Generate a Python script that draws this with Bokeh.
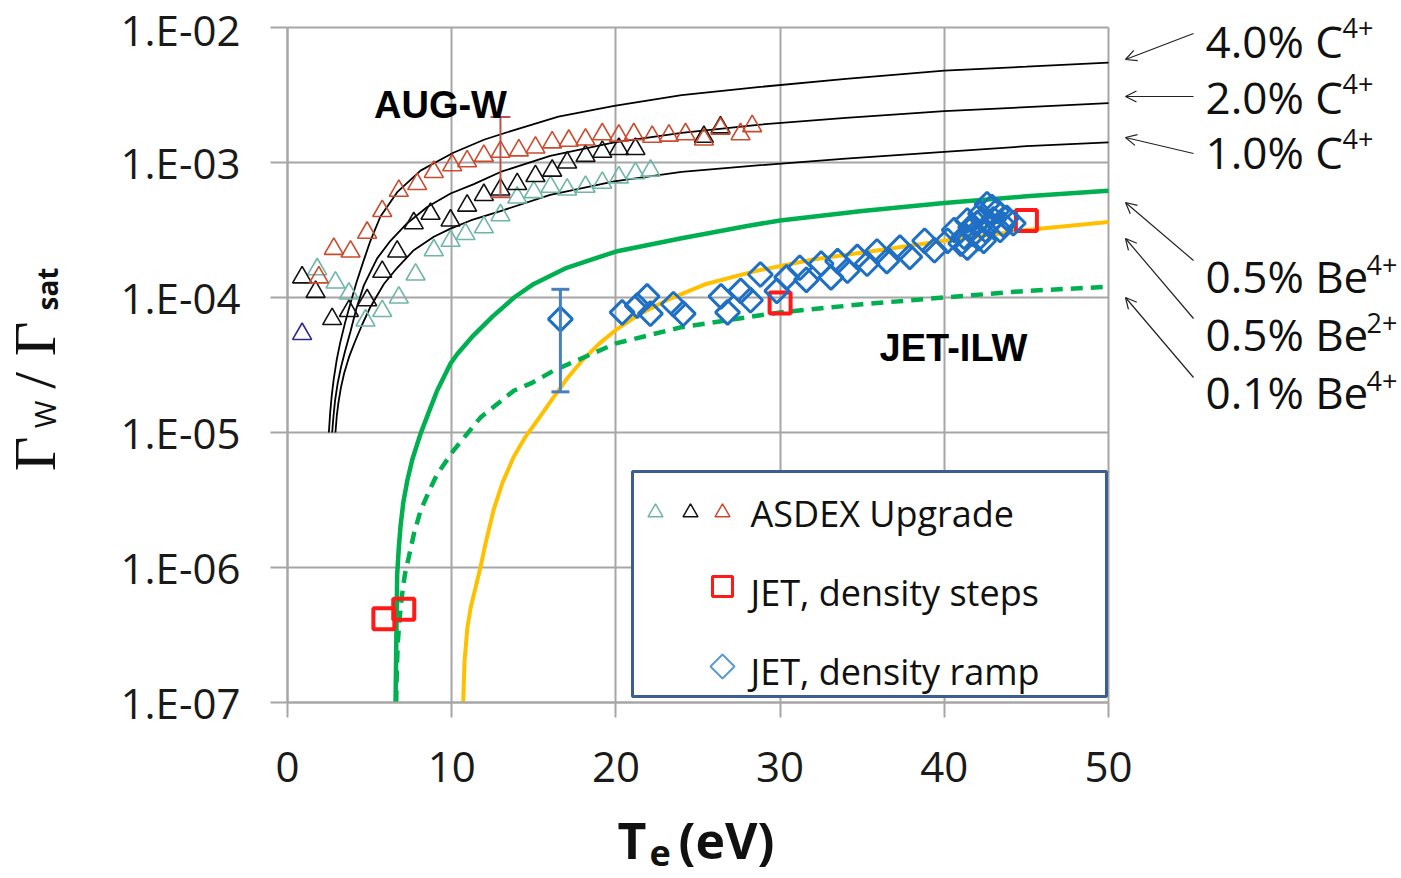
import math
from bokeh.plotting import figure
from bokeh.models import (Range1d, FixedTicker, CustomJSTickFormatter, Label, Arrow, OpenHead,
                          BoxAnnotation, Whisker, TeeHead, ColumnDataSource)
from bokeh.embed import file_html
from bokeh.resources import INLINE

# ------------------------------------------------------------------ data
# model curves: Te (eV) and Gamma_W / Gamma_sat
te_c40 = [2.52, 2.60, 2.70, 2.82, 3.00, 3.20, 3.50, 3.84, 4.20, 4.60, 5.05, 5.66, 6.68, 8.10, 9.00,
          10.1, 12.0, 13.8, 16.5, 19.9, 24.0, 28.8, 34.0, 40.0, 45.0, 50.0]
gw_c40 = [1.00e-5, 1.41e-5, 1.91e-5, 2.51e-5, 3.47e-5, 4.57e-5, 6.46e-5, 9.12e-5, 1.29e-4, 1.82e-4,
          2.63e-4, 3.98e-4, 6.03e-4, 8.71e-4, 1.00e-3, 1.18e-3, 1.48e-3, 1.74e-3, 2.19e-3, 2.63e-3,
          3.16e-3, 3.63e-3, 4.17e-3, 4.79e-3, 5.13e-3, 5.50e-3]

te_c20 = [2.72, 2.80, 2.90, 3.05, 3.25, 3.50, 3.84, 4.20, 4.65, 5.46, 6.27, 7.29, 8.51, 9.93, 11.35,
          12.97, 16.0, 19.9, 24.0, 28.8, 34.0, 40.0, 45.0, 50.0]
gw_c20 = [1.00e-5, 1.32e-5, 1.74e-5, 2.29e-5, 3.02e-5, 3.98e-5, 5.62e-5, 8.32e-5, 1.23e-4, 1.95e-4,
          2.63e-4, 3.55e-4, 4.68e-4, 5.89e-4, 6.92e-4, 8.51e-4, 1.12e-3, 1.41e-3, 1.66e-3, 1.91e-3,
          2.14e-3, 2.40e-3, 2.57e-3, 2.75e-3]

te_c10 = [2.92, 3.00, 3.10, 3.25, 3.45, 3.75, 4.10, 4.55, 5.05, 5.87, 6.68, 7.69, 8.91, 9.93, 11.15,
          12.97, 16.0, 19.9, 24.0, 28.8, 34.0, 40.0, 45.0, 50.0]
gw_c10 = [1.00e-5, 1.32e-5, 1.66e-5, 2.14e-5, 2.75e-5, 3.63e-5, 4.68e-5, 6.31e-5, 8.51e-5, 1.26e-4,
          1.66e-4, 2.24e-4, 2.82e-4, 3.24e-4, 3.72e-4, 4.37e-4, 5.75e-4, 7.24e-4, 8.51e-4, 9.55e-4,
          1.07e-3, 1.20e-3, 1.32e-3, 1.41e-3]

te_be4_05 = [6.58, 6.62, 6.68, 6.78, 6.88, 7.05, 7.29, 7.60, 8.10, 8.60, 9.11, 9.93, 10.33, 11.33,
             12.5, 13.8, 15.0, 17.0, 20.0, 24.0, 28.0, 30.0, 35.0, 40.0, 45.0, 50.0]
gw_be4_05 = [1.00e-7, 2.51e-7, 8.91e-7, 1.41e-6, 2.00e-6, 3.02e-6, 4.37e-6, 6.31e-6, 9.77e-6, 1.41e-5,
             2.04e-5, 3.24e-5, 3.80e-5, 5.25e-5, 7.24e-5, 1.00e-4, 1.26e-4, 1.66e-4, 2.19e-4, 2.75e-4,
             3.39e-4, 3.72e-4, 4.37e-4, 5.01e-4, 5.62e-4, 6.17e-4]

te_be2_05 = [10.70, 10.78, 10.95, 11.15, 11.35, 11.75, 12.10, 12.56, 13.10, 13.78, 14.50, 15.40, 16.20,
             17.03, 18.0, 19.0, 20.0, 21.5, 23.1, 25.5, 28.6, 32.0, 36.0, 40.0, 45.0, 50.0]
gw_be2_05 = [1.00e-7, 2.00e-7, 3.55e-7, 5.01e-7, 6.31e-7, 1.00e-6, 1.58e-6, 2.69e-6, 4.27e-6, 6.61e-6,
             9.33e-6, 1.32e-5, 1.82e-5, 2.51e-5, 3.47e-5, 4.57e-5, 5.75e-5, 7.59e-5, 9.55e-5, 1.26e-4,
             1.58e-4, 1.91e-4, 2.24e-4, 2.63e-4, 3.16e-4, 3.63e-4]

te_be4_01 = [6.62, 6.66, 6.72, 6.85, 6.98, 7.15, 7.39, 7.70, 8.10, 8.60, 9.11, 10.13, 11.75, 13.78,
             14.92, 16.22, 20.0, 24.0, 30.0, 35.0, 40.0, 45.0, 50.0]
gw_be4_01 = [1.00e-7, 1.78e-7, 2.82e-7, 4.47e-7, 6.31e-7, 8.91e-7, 1.20e-6, 1.78e-6, 2.63e-6, 3.63e-6,
             4.90e-6, 7.41e-6, 1.29e-5, 2.04e-5, 2.34e-5, 2.88e-5, 4.57e-5, 6.03e-5, 7.76e-5, 8.91e-5,
             1.00e-4, 1.12e-4, 1.20e-4]

# ASDEX Upgrade measurements (three series of triangles)
aug_red_te = [1.91, 2.82, 3.84, 4.85, 5.77, 6.78, 7.90, 8.91, 10.03, 10.94, 11.96, 12.97, 14.09, 15.10,
              16.12, 17.13, 18.15, 19.17, 20.18, 21.09, 22.21, 23.23, 24.24, 25.36, 26.37, 27.59, 28.30]
aug_red_gw = [1.41e-4, 2.29e-4, 2.19e-4, 3.02e-4, 4.37e-4, 6.17e-4, 6.92e-4, 8.51e-4, 9.55e-4, 1.02e-3,
              1.12e-3, 1.20e-3, 1.23e-3, 1.29e-3, 1.41e-3, 1.45e-3, 1.48e-3, 1.62e-3, 1.58e-3, 1.62e-3,
              1.55e-3, 1.58e-3, 1.62e-3, 1.48e-3, 1.78e-3, 1.62e-3, 1.86e-3]

aug_blk_te = [0.89, 1.71, 2.72, 3.74, 4.85, 5.77, 6.68, 7.69, 8.71, 9.93, 10.94, 11.96, 12.97, 13.99,
              15.10, 16.12, 17.03, 18.15, 19.17, 20.18, 21.19, 25.36, 26.37]
aug_blk_gw = [1.41e-4, 1.10e-4, 6.92e-5, 7.94e-5, 9.55e-5, 1.55e-4, 2.19e-4, 3.55e-4, 4.17e-4, 3.72e-4,
              4.79e-4, 5.75e-4, 6.31e-4, 6.92e-4, 7.94e-4, 8.71e-4, 1.00e-3, 1.12e-3, 1.20e-3, 1.26e-3,
              1.26e-3, 1.55e-3, 1.82e-3]

aug_teal_te = [1.81, 2.92, 3.74, 4.75, 5.77, 6.78, 7.80, 8.91, 9.93, 10.84, 11.96, 12.97, 13.99, 15.00,
               16.02, 17.03, 18.15, 19.17, 20.18, 21.19, 22.11]
aug_teal_gw = [1.62e-4, 1.29e-4, 1.07e-4, 6.76e-5, 7.94e-5, 1.00e-4, 1.48e-4, 2.24e-4, 2.63e-4, 2.95e-4,
               3.31e-4, 4.07e-4, 5.50e-4, 6.03e-4, 6.61e-4, 6.31e-4, 6.61e-4, 7.08e-4, 7.76e-4, 8.32e-4,
               8.71e-4]

aug_navy_te = [0.89]
aug_navy_gw = [5.37e-5]

# error bar on an ASDEX Upgrade point
aug_err_te = [12.97]
aug_err_hi = [2.17e-3]
aug_err_lo = [5.53e-4]

# JET, density steps
jet_steps_te = [5.87, 7.08, 30.0, 45.0]
jet_steps_gw = [4.17e-7, 4.90e-7, 9.12e-5, 3.72e-4]

# JET, density ramp
jet_ramp_te = [20.38, 21.3, 21.9, 22.1, 23.5, 24.1, 26.4, 26.8, 27.6, 28.2, 28.8, 29.8, 30.4, 31.2,
               31.6, 32.5, 33.1, 33.5, 34.1, 34.7, 35.3, 35.9, 36.5, 37.3, 37.9, 38.8, 39.4, 40.2,
               40.6, 41.0, 41.2, 41.4, 41.4, 41.6, 41.8, 42.0, 42.1, 42.2, 42.3, 42.4, 42.5, 42.6,
               42.8, 42.9, 43.0, 43.2, 43.4, 43.6, 43.8, 44.2]
jet_ramp_gw = [7.76e-5, 8.71e-5, 1.02e-4, 7.59e-5, 8.91e-5, 7.59e-5, 1.02e-4, 7.76e-5, 1.12e-4, 9.55e-5,
               1.48e-4, 1.12e-4, 1.41e-4, 1.66e-4, 1.35e-4, 1.78e-4, 1.41e-4, 1.86e-4, 1.58e-4, 2.00e-4,
               1.78e-4, 2.19e-4, 1.86e-4, 2.34e-4, 2.00e-4, 2.63e-4, 2.24e-4, 2.63e-4, 3.16e-4, 2.51e-4,
               2.82e-4, 3.72e-4, 2.34e-4, 3.31e-4, 2.95e-4, 3.55e-4, 2.75e-4, 4.17e-4, 3.80e-4, 2.63e-4,
               3.16e-4, 4.90e-4, 3.55e-4, 4.68e-4, 3.80e-4, 4.37e-4, 3.16e-4, 3.47e-4, 3.89e-4, 3.55e-4]

# single ramp point with error bar
jet_err_te = [16.62]
jet_err_gw = [6.92e-5]
jet_err_hi = [1.15e-4]
jet_err_lo = [2.00e-5]

x_ticks = [0, 10, 20, 30, 40, 50]
y_ticks = [1e-7, 1e-6, 1e-5, 1e-4, 1e-3, 1e-2]
x_lim = (0, 50)
y_lim = (1e-7, 1e-2)

curve_labels = [("4.0% C", "4+"), ("2.0% C", "4+"), ("1.0% C", "4+"),
                ("0.5% Be", "4+"), ("0.5% Be", "2+"), ("0.1% Be", "4+")]
legend_labels = ["ASDEX Upgrade", "JET, density steps", "JET, density ramp"]

# ------------------------------------------------------------------ layout helpers
W, H = 1401, 878
FX0, FX1, FY_TOP, FY_BOT = 287, 1108, 27, 702      # plot area in pixels
DEC = (FY_BOT - FY_TOP) / 5.0                      # pixels per decade


def ax(X):
    """pixel column -> Te (only for placing texts / guides)"""
    return (X - FX0) / (FX1 - FX0) * 50.0


def ay(Y):
    """pixel row -> Gamma value (only for placing texts / guides)"""
    return 10 ** (-2 - (Y - FY_TOP) / DEC)


# the drawing frame spans the whole canvas; the axes sit at Te = 0 and 1e-7
p = figure(width=W, height=H, x_range=Range1d(ax(0), ax(W)), y_range=Range1d(ay(H), ay(0)),
           y_axis_type="log", output_backend="svg", toolbar_location=None, title=None)
p.min_border = 0
p.background_fill_color = "white"
p.border_fill_color = "white"
p.outline_line_color = None

GRID = "#a6a6a6"
for a in (p.xaxis[0], p.yaxis[0]):
    a.axis_line_color = GRID
    a.axis_line_width = 2
    a.major_tick_line_color = GRID
    a.major_tick_line_width = 2
    a.major_tick_in = 0
    a.minor_tick_line_color = None
    a.major_label_text_font = "Open Sans"
    a.major_label_text_font_size = "42px"
    a.major_label_text_color = "#1a1a1a"
p.xaxis.ticker = FixedTicker(ticks=x_ticks)
p.yaxis.ticker = FixedTicker(ticks=y_ticks)
p.xaxis.fixed_location = y_lim[0]
p.yaxis.fixed_location = x_lim[0]
p.xaxis.bounds = x_lim
p.yaxis.bounds = y_lim
p.xaxis.major_tick_out = 15
p.yaxis.major_tick_out = 17
p.xaxis.major_label_standoff = 34
p.yaxis.major_label_standoff = 30
p.yaxis.formatter = CustomJSTickFormatter(code="""
    const e = Math.round(Math.log10(tick));
    return "1.E" + (e < 0 ? "-" : "+") + String(Math.abs(e)).padStart(2, "0");
""")
for g in (p.xgrid[0], p.ygrid[0]):
    g.grid_line_color = GRID
    g.grid_line_width = 2
    g.minor_grid_line_color = None
p.xgrid.bounds = x_lim
p.ygrid.bounds = y_lim
p.xgrid.cross_bounds = y_lim
p.ygrid.cross_bounds = x_lim

# model curves
for te, gw in ((te_c40, gw_c40), (te_c20, gw_c20), (te_c10, gw_c10)):
    p.line(te, gw, line_color="black", line_width=1.8)
p.line(te_be4_05, gw_be4_05, line_color="#00b050", line_width=4.5)
p.line(te_be2_05, gw_be2_05, line_color="#ffc000", line_width=4)
p.line(te_be4_01, gw_be4_01, line_color="#00b050", line_width=4.5, line_dash="12 8")

RED_T = "#cc4b2e"
TEAL_T = "#6fb6a6"
TRI = 19
p.scatter(aug_teal_te, aug_teal_gw, marker="triangle", size=TRI, fill_color=None, line_color=TEAL_T, line_width=1.6)
p.scatter(aug_blk_te, aug_blk_gw, marker="triangle", size=TRI, fill_color=None, line_color="#111111", line_width=1.6)
p.scatter(aug_red_te, aug_red_gw, marker="triangle", size=TRI, fill_color=None, line_color=RED_T, line_width=1.6)
p.scatter(aug_navy_te, aug_navy_gw, marker="triangle", size=TRI, fill_color=None, line_color="#2e2a94", line_width=1.6)

p.add_layout(Whisker(source=ColumnDataSource(dict(b=aug_err_te, u=aug_err_hi, l=aug_err_lo)),
                     base="b", upper="u", lower="l", dimension="height", level="annotation",
                     line_color="#c0504d", line_width=2,
                     upper_head=TeeHead(size=20, line_color="#c0504d", line_width=2),
                     lower_head=TeeHead(size=20, line_color="#c0504d", line_width=2)))

p.scatter(jet_steps_te, jet_steps_gw, marker="square", size=21, fill_color=None, line_color="#ff1a1a", line_width=4)

BLUE = "#1f70c4"
p.scatter(jet_ramp_te, jet_ramp_gw, marker="square", angle=math.pi / 4, size=17, fill_color=None,
          line_color=BLUE, line_width=3)
p.scatter(jet_err_te, jet_err_gw, marker="square", angle=math.pi / 4, size=17, fill_color=None,
          line_color=BLUE, line_width=3)
p.add_layout(Whisker(source=ColumnDataSource(dict(b=jet_err_te, u=jet_err_hi, l=jet_err_lo)),
                     base="b", upper="u", lower="l", dimension="height", level="annotation",
                     line_color="#4a7fc0", line_width=3,
                     upper_head=TeeHead(size=18, line_color="#4a7fc0", line_width=3),
                     lower_head=TeeHead(size=18, line_color="#4a7fc0", line_width=3)))

# ------------------------------------------------------------------ texts
p.add_layout(Label(x=ax(440), y=ay(104), text="AUG-W", text_align="center", text_baseline="middle",
                   text_font="Liberation Sans", text_font_style="bold", text_font_size="38px",
                   text_color="black"))
p.add_layout(Label(x=ax(953), y=ay(347), text="JET-ILW", text_align="center", text_baseline="middle",
                   text_font="Liberation Sans", text_font_style="bold", text_font_size="38px",
                   text_color="black"))

label_y = [40.0, 96.5, 151.5, 275.0, 333.0, 391.5]
sup_x = [1342, 1342, 1342, 1366, 1366, 1366]
sup_dy = [13, 13, 13, 11, 11, 11]
arrows = [((1193, 33), (1125, 59)), ((1193, 96), (1125, 96)), ((1193, 153), (1125, 137)),
          ((1193, 260), (1125, 202)), ((1193, 318), (1125, 238)), ((1193, 377), (1125, 297))]
for (txt, sup), yc, sx, sdy, (s, e) in zip(curve_labels, label_y, sup_x, sup_dy, arrows):
    p.add_layout(Label(x=ax(1205), y=ay(yc), text=txt, text_baseline="middle", text_font="Open Sans",
                       text_font_size="44px", text_color="#111111"))
    p.add_layout(Label(x=ax(sx), y=ay(yc - sdy), text=sup, text_baseline="middle",
                       text_font="Open Sans", text_font_size="27px", text_color="#111111"))
    p.add_layout(Arrow(x_start=ax(s[0]), y_start=ay(s[1]), x_end=ax(e[0]), y_end=ay(e[1]),
                       line_color="#222222", line_width=1.2,
                       end=OpenHead(size=11, line_color="#222222", line_width=1.2)))

# legend box
p.add_layout(BoxAnnotation(left=ax(632), right=ax(1106), top=ay(471), bottom=ay(696),
                           fill_color="white", fill_alpha=1.0, line_color="#3c5f8f", line_width=3,
                           line_alpha=1.0))
for X, col in ((655, TEAL_T), (690, "#111111"), (722, RED_T)):
    p.scatter([ax(X)], [ay(512)], marker="triangle", size=15, fill_color=None, line_color=col,
              line_width=1.5, level="overlay")
p.scatter([ax(722)], [ay(586)], marker="square", size=20, fill_color=None, line_color="#ff1a1a",
          line_width=3, level="overlay")
p.scatter([ax(722)], [ay(666)], marker="square", angle=math.pi / 4, size=17, fill_color=None,
          line_color="#5b9bd5", line_width=2, level="overlay")
for txt, Y in zip(legend_labels, (513, 592, 671)):
    p.add_layout(Label(x=ax(750), y=ay(Y), text=txt, text_baseline="middle", text_font="Open Sans",
                       text_font_size="36px", text_color="#111111"))

# x axis title  T_e (eV)
p.add_layout(Label(x=ax(617), y=ay(839), text="T", text_font="Open Sans", text_font_style="bold",
                   text_font_size="50px", text_baseline="middle", text_color="#111111"))
p.add_layout(Label(x=ax(649), y=ay(852), text="e", text_font="Open Sans", text_font_style="bold",
                   text_font_size="36px", text_baseline="middle", text_color="#111111"))
p.add_layout(Label(x=ax(678), y=ay(839), text="(eV)", text_font="Open Sans", text_font_style="bold",
                   text_font_size="50px", text_baseline="middle", text_color="#111111"))

# y axis title  Gamma_W / Gamma_sat (vertical)
ytitle = [("\u0393", "Liberation Serif", "normal", "60px", 34, 453.5),
          ("W", "Open Sans", "normal", "30px", 44, 414),
          ("/", "Liberation Serif", "normal", "60px", 34, 380),
          ("\u0393", "Liberation Serif", "normal", "60px", 34, 338.5),
          ("sat", "Open Sans", "bold", "28px", 46, 288.5)]
for txt, fnt, sty, sz, X, Y in ytitle:
    p.add_layout(Label(x=ax(X), y=ay(Y), text=txt, angle=math.pi / 2, text_align="center",
                       text_baseline="middle", text_font=fnt, text_font_style=sty,
                       text_font_size=sz, text_color="#111111"))

open("out.html", "w").write(file_html(p, INLINE))
